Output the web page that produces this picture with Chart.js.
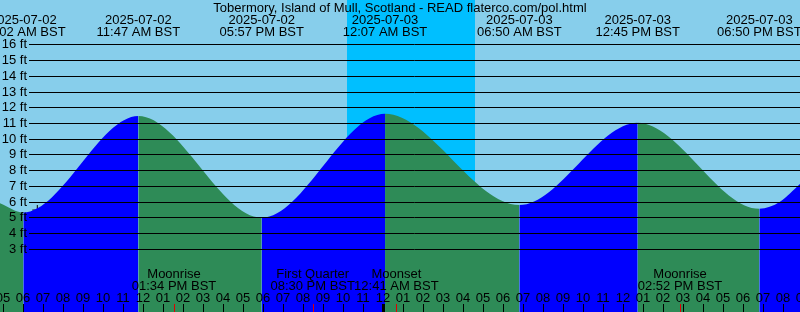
<!DOCTYPE html>
<html><head><meta charset="utf-8">
<script src="https://cdn.jsdelivr.net/npm/chart.js@4/dist/chart.umd.min.js"></script>
<style>html,body{margin:0;padding:0;overflow:hidden;background:#87CEEB}#c{display:block}</style>
</head><body>
<div style="width:800px;height:312px"><canvas id="c" width="800" height="312"></canvas></div>
<script>
// Hours are counted from 2025-07-02 00:00 BST
const title = "Tobermory, Island of Mull, Scotland - READ flaterco.com/pol.html";
const viewStart = 4.865, viewEnd = 44.865;
const tideTimes   = [4.865, 6.033, 11.783, 17.95, 24.117, 30.833, 36.75, 42.833, 43.865, 44.865];
const tideHeights = [5.89,  5.3,   11.44,  4.97,  11.59,  5.78,   11.02, 5.54,   5.99,   7.11];
const eventTimes  = [6.033, 11.783, 17.95, 24.117, 30.833, 36.75, 42.833];
const eventDates  = ["2025-07-02","2025-07-02","2025-07-02","2025-07-03","2025-07-03","2025-07-03","2025-07-03"];
const eventClock  = ["06:02 AM BST","11:47 AM BST","05:57 PM BST","12:07 AM BST","06:50 AM BST","12:45 PM BST","06:50 PM BST"];
const moonTimes   = [13.567, 20.5, 24.683, 38.867];
const moonNames   = ["Moonrise","First Quarter","Moonset","Moonrise"];
const moonClock   = ["01:34 PM BST","08:30 PM BST","12:41 AM BST","02:52 PM BST"];
const nightStart  = [22.215];
const nightEnd    = [28.615];
const heightTicks = [3,4,5,6,7,8,9,10,11,12,13,14,15,16];
const hourTicks   = [4,5,6,7,8,9,10,11,12,13,14,15,16,17,18,19,20,21,22,23,24,25,26,27,28,29,30,31,32,33,34,35,36,37,38,39,40,41,42,43,44,45];
const hourLabels  = ["04","05","06","07","08","09","10","11","12","01","02","03","04","05","06","07","08","09","10","11","12","01","02","03","04","05","06","07","08","09","10","11","12","01","02","03","04","05","06","07","08","09"];
const nowTime = [6.73], nowHeight = [5.46];

const FONT = '13px "Liberation Sans", Arial, sans-serif';
const RISE = '#0000FF', FALL = '#2E8B57', SKY = '#87CEEB', NIGHT = '#00BFFF';

const bgPlugin = {
  id: 'bg',
  beforeDraw(chart) {
    const {ctx, scales: {x}, width, height} = chart;
    ctx.save();
    ctx.fillStyle = SKY;
    ctx.fillRect(0, 0, width, height);
    ctx.fillStyle = NIGHT;
    nightStart.forEach((s, i) => {
      const a = x.getPixelForValue(s), b = x.getPixelForValue(nightEnd[i]);
      ctx.fillRect(a, 0, b - a, height);
    });
    ctx.restore();
  }
};

const overlayPlugin = {
  id: 'overlay',
  afterDatasetsDraw(chart) {
    const {ctx, scales: {x, y}, width, height} = chart;
    ctx.save();
    ctx.font = FONT;
    ctx.fillStyle = '#000';
    ctx.strokeStyle = '#000';
    ctx.lineWidth = 1;
    // height grid + labels
    heightTicks.forEach(h => {
      const py = Math.round(y.getPixelForValue(h)) + 0.5;
      ctx.beginPath(); ctx.moveTo(29, py); ctx.lineTo(width, py); ctx.stroke();
      ctx.textAlign = 'right'; ctx.textBaseline = 'middle';
      ctx.fillText(h + ' ft', 27, py);
    });
    // title
    ctx.textAlign = 'center'; ctx.textBaseline = 'alphabetic';
    ctx.fillText(title, 400, 11.5);
    // tide event labels
    eventTimes.forEach((t, i) => {
      const px = x.getPixelForValue(t);
      ctx.fillText(eventDates[i], px, 24);
      ctx.fillText(eventClock[i], px, 36);
    });
    // moon labels
    moonTimes.forEach((t, i) => {
      const px = x.getPixelForValue(t);
      ctx.fillText(moonNames[i], px, 278);
      ctx.fillText(moonClock[i], px, 290);
    });
    // hour ticks + labels
    hourTicks.forEach((t, i) => {
      const px = Math.round(x.getPixelForValue(t));
      ctx.fillStyle = '#000';
      ctx.fillText(hourLabels[i], px, 302);
      const w = (t % 24 === 0) ? 3 : 1;
      ctx.fillRect(px - Math.floor(w / 2), 304, w, height - 304);
    });
    ctx.fillStyle = '#E00000';
    moonTimes.forEach(t => {
      const px = Math.round(x.getPixelForValue(t));
      ctx.fillRect(px, 304, 1, height - 304);
    });
    ctx.restore();
  }
};

new Chart(document.getElementById('c'), {
  type: 'line',
  data: {
    datasets: [
      {
        data: tideTimes.map((t, i) => ({x: t, y: tideHeights[i]})),
        fill: 'start',
        cubicInterpolationMode: 'monotone',
        borderColor: 'rgba(0,0,0,0)',
        borderWidth: 0,
        pointRadius: 0,
        backgroundColor: FALL,
        segment: {
          backgroundColor: c => c.p1.parsed.y > c.p0.parsed.y ? RISE : FALL
        }
      },
      {
        type: 'scatter',
        data: nowTime.map((t, i) => ({x: t, y: nowHeight[i]})),
        pointStyle: 'cross',
        pointRadius: 5,
        borderColor: '#000',
        borderWidth: 1,
        backgroundColor: '#000'
      }
    ]
  },
  options: {
    responsive: false,
    animation: false,
    layout: {padding: 0, autoPadding: false},
    plugins: {legend: {display: false}, tooltip: {enabled: false}},
    scales: {
      x: {type: 'linear', min: viewStart, max: viewEnd, display: false},
      y: {min: -1.03, max: 18.83, display: false}
    }
  },
  plugins: [bgPlugin, overlayPlugin]
});
</script>
</body></html>
